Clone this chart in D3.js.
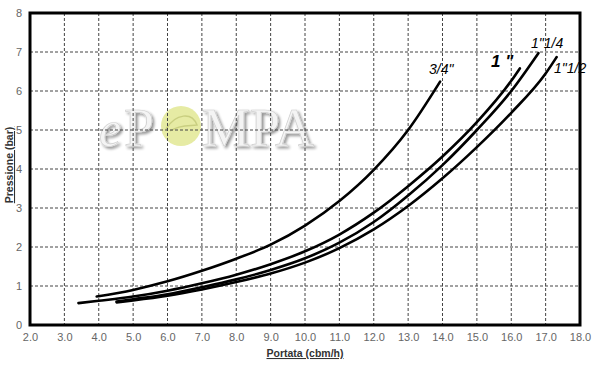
<!DOCTYPE html>
<html><head><meta charset="utf-8">
<script src="https://cdn.jsdelivr.net/npm/d3@7"></script>
<style>
html,body{margin:0;padding:0;background:#fff;}
svg{display:block;}
</style>
</head><body>
<svg id="chart" width="600" height="365"></svg>
<script>
// ---- data ----
const xTickValues = [2,3,4,5,6,7,8,9,10,11,12,13,14,15,16,17,18];
const yTickValues = [0,1,2,3,4,5,6,7,8];
const seriesNames = ['3/4"', '1 "', '1"1/4', '1"1/2'];
const flow34 = [3.94,5,6,7,8,9,10,11,12,13,13.93];
const pres34 = [0.73,0.90,1.12,1.39,1.70,2.06,2.55,3.18,3.98,5.0,6.24];
const flow1 = [3.41,4,5,6,7,8,9,10,11,12,13,14,15,16,16.25];
const pres1 = [0.56,0.62,0.73,0.88,1.07,1.29,1.56,1.89,2.32,2.88,3.56,4.32,5.2,6.26,6.58];
const flow114 = [4.52,5,6,7,8,9,10,11,12,13,14,15,16,16.79];
const pres114 = [0.60,0.66,0.79,0.97,1.17,1.41,1.71,2.11,2.64,3.32,4.10,5.0,6.0,6.97];
const flow112 = [4.52,5,6,7,8,9,10,11,12,13,14,15,16,17,17.32];
const pres112 = [0.58,0.63,0.75,0.91,1.10,1.32,1.60,1.97,2.45,3.05,3.76,4.56,5.44,6.45,6.87];
const xTitle = 'Portata (cbm/h)';
const yTitle = 'Pressione (bar)';

const seriesFlows = [flow34, flow1, flow114, flow112];
const seriesPres = [pres34, pres1, pres114, pres112];

// ---- layout ----
const svg = d3.select('#chart');
const L = 30, R = 580, T = 13, B = 325;
const x = d3.scaleLinear().domain([2,18]).range([L,R]);
const y = d3.scaleLinear().domain([0,8]).range([B,T]);

// watermark
const defs = svg.append('defs');
const f = defs.append('filter').attr('id','sh').attr('x','-10%').attr('y','-10%').attr('width','130%').attr('height','140%');
f.append('feGaussianBlur').attr('in','SourceAlpha').attr('stdDeviation',1.6).attr('result','b');
f.append('feOffset').attr('in','b').attr('dx',2).attr('dy',2).attr('result','o');
f.append('feComponentTransfer').attr('in','o').attr('result','o2')
  .append('feFuncA').attr('type','linear').attr('slope',0.45);
const fm = f.append('feMerge');
fm.append('feMergeNode').attr('in','o2');
fm.append('feMergeNode').attr('in','SourceGraphic');

const wm = svg.append('g').attr('class','watermark');
wm.append('text').attr('x',99).attr('y',146).attr('font-family','Liberation Serif, serif')
  .attr('font-style','italic').attr('font-size',50).attr('fill','#f4f4f4').attr('stroke','#cfcfcf').attr('stroke-width',0.7)
  .attr('filter','url(#sh)').text('e');
wm.append('text').attr('x',124).attr('y',146).attr('font-family','Liberation Serif, serif')
  .attr('font-size',54).attr('fill','#f4f4f4').attr('stroke','#cfcfcf').attr('stroke-width',0.7)
  .attr('filter','url(#sh)').text('P');
wm.append('circle').attr('cx',181).attr('cy',126).attr('r',20).attr('fill','#e3e99a').attr('opacity',0.9);
wm.append('path').attr('d','M166,129 C176,113 192,112 197,125 C190,126 180,124 170,131')
  .attr('fill','none').attr('stroke','#c9cf80').attr('stroke-width',1.5);
wm.append('text').attr('x',202).attr('y',146).attr('font-family','Liberation Serif, serif')
  .attr('font-size',54).attr('fill','#f4f4f4').attr('stroke','#cfcfcf').attr('stroke-width',0.7)
  .attr('filter','url(#sh)').text('MPA');

// grid
const grid = svg.append('g');
grid.selectAll('line.v').data(xTickValues.slice(1,-1)).enter().append('line')
  .attr('x1',d=>x(d)).attr('x2',d=>x(d)).attr('y1',T).attr('y2',B)
  .attr('stroke','#444').attr('stroke-width',1).attr('stroke-dasharray','3,2');
grid.selectAll('line.h').data(yTickValues.slice(1,-1)).enter().append('line')
  .attr('y1',d=>y(d)).attr('y2',d=>y(d)).attr('x1',L).attr('x2',R)
  .attr('stroke','#444').attr('stroke-width',1).attr('stroke-dasharray','3,2');

// axes (labels only)
const xAxis = d3.axisBottom(x).tickValues(xTickValues).tickFormat(d3.format('.1f')).tickSize(0).tickPadding(8);
const gx = svg.append('g').attr('transform',`translate(0,${B})`).call(xAxis);
gx.select('.domain').remove();
gx.selectAll('text').attr('font-family','Liberation Sans, Arial, sans-serif').attr('font-size',11).attr('fill','#666');
const yAxis = d3.axisLeft(y).tickValues(yTickValues).tickFormat(d3.format('d')).tickSize(0).tickPadding(8);
const gy = svg.append('g').attr('transform',`translate(${L},0)`).call(yAxis);
gy.select('.domain').remove();
gy.selectAll('text').attr('font-family','Liberation Sans, Arial, sans-serif').attr('font-size',11).attr('fill','#666');

// frame
svg.append('rect').attr('x',L).attr('y',T).attr('width',R-L).attr('height',B-T)
  .attr('fill','none').attr('stroke','#000').attr('stroke-width',3);

// curves
const line = d3.line().x(d=>x(d[0])).y(d=>y(d[1])).curve(d3.curveMonotoneX);
seriesFlows.forEach((fl,i)=>{
  const pts = fl.map((v,j)=>[v, seriesPres[i][j]]);
  svg.append('path').datum(pts).attr('d',line).attr('fill','none')
    .attr('stroke','#000').attr('stroke-width',2.6).attr('stroke-linecap','round');
});

// curve labels
const lab = svg.append('g').attr('font-family','Liberation Sans, Arial, sans-serif').attr('font-style','italic').attr('fill','#000');
lab.append('text').attr('x',429).attr('y',74).attr('font-size',14).text(seriesNames[0]);
lab.append('text').attr('x',491).attr('y',67).attr('font-size',17).attr('font-weight','bold').text(seriesNames[1]);
lab.append('text').attr('x',531).attr('y',48).attr('font-size',14).text(seriesNames[2]);
lab.append('text').attr('x',554).attr('y',73).attr('font-size',14).text(seriesNames[3]);

// axis titles
svg.append('text').attr('x',(L+R)/2).attr('y',357).attr('text-anchor','middle')
  .attr('font-family','Liberation Sans, Arial, sans-serif').attr('font-size',10.5).attr('font-weight','bold')
  .attr('text-decoration','underline').attr('fill','#333').text(xTitle);
svg.append('text').attr('transform','translate(13,165) rotate(-90)').attr('text-anchor','middle')
  .attr('font-family','Liberation Sans, Arial, sans-serif').attr('font-size',10.5).attr('font-weight','bold')
  .attr('text-decoration','underline').attr('fill','#333').text(yTitle);
</script>
</body></html>
